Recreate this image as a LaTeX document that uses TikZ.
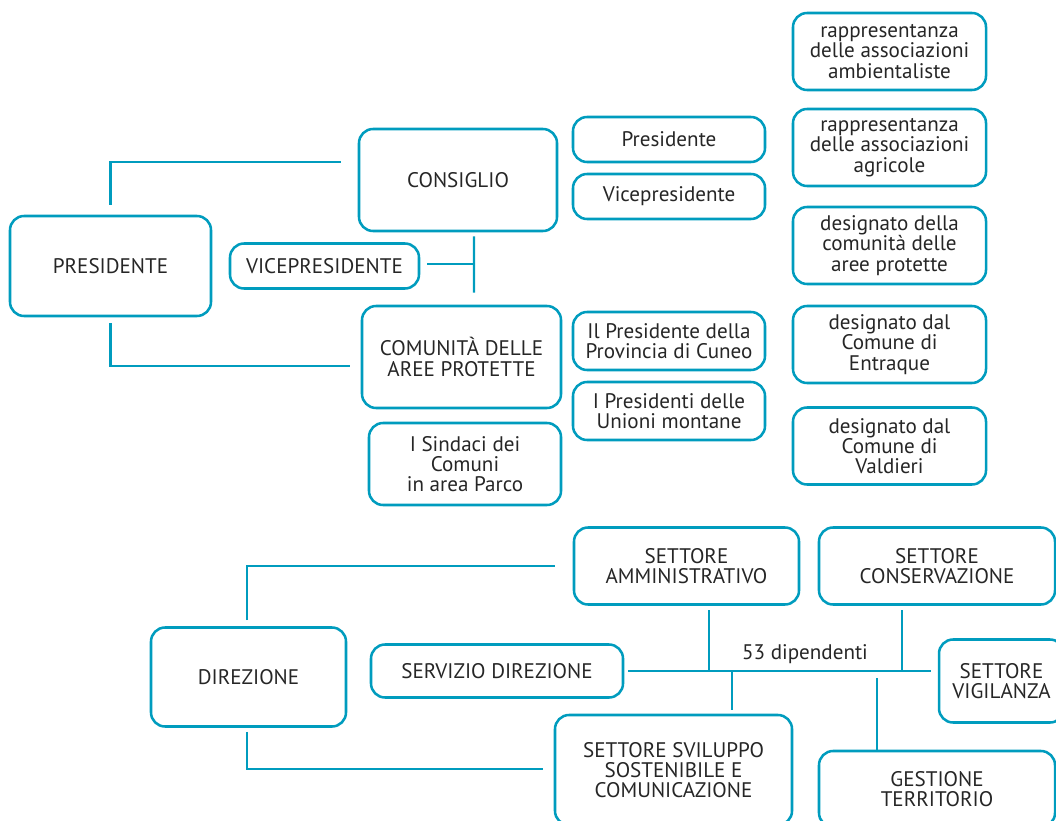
\documentclass[tikz,border=0pt]{standalone}
\usepackage{fontspec}
\setmainfont{PT Sans}
\definecolor{ParkBlue}{RGB}{0,156,190}
\colorlet{BoxText}{black!85}
\usetikzlibrary{calc}
\tikzset{
  box/.style 2 args={draw=ParkBlue, line width=1.8pt, rounded corners=10pt,
    minimum width=#1*0.025cm, minimum height=#2*0.025cm, align=center,
    inner sep=0pt, text=BoxText, font=\fontsize{15}{14.4}\selectfont},
  link/.style={draw=ParkBlue, line width=1.6pt},
}

\begin{document}
\begin{tikzpicture}[x=0.025cm, y=-0.025cm]
\useasboundingbox (0,0) rectangle (1056,820);

\node[box={201}{100}] (pres) at (110.5,266) {PRESIDENTE};
\node[box={198}{102}] (cons) at (458,180) {CONSIGLIO};
\node[box={189}{45}] (vice) at (324.5,266) {VICEPRESIDENTE};
\node[box={199}{102}] (comu) at (461.5,357) {COMUNITÀ DELLE\\AREE PROTETTE};
\node[box={192}{82}] (sind) at (465,464) {I Sindaci dei\\Comuni\\in area Parco};

\node[box={192}{45}] (rpres) at (669,139.5) {Presidente};
\node[box={192}{45}] (rvice) at (669,196.5) {Vicepresidente};
\node[box={192}{58}] (rprov) at (669,341) {Il Presidente della\\Provincia di Cuneo};
\node[box={192}{58}] (runio) at (669,411) {I Presidenti delle\\Unioni montane};

\node[box={193}{77}] (amb) at (889.5,51.5) {rappresentanza\\delle associazioni\\ambientaliste};
\node[box={193}{77}] (agr) at (889.5,147.5) {rappresentanza\\delle associazioni\\agricole};
\node[box={193}{77}] (desig) at (889.5,245.5) {designato della\\comunità delle\\aree protette};
\node[box={193}{77}] (entr) at (889.5,344.5) {designato dal\\Comune di\\Entraque};
\node[box={193}{77}] (vald) at (889.5,446) {designato dal\\Comune di\\Valdieri};

\draw[link] ($(pres.north)+(0,-10)$) |- ($(cons.west)+(-17,-18)$);
\draw[link] ($(pres.south)+(0,6)$) |- ($(comu.west)+(-11,9)$);
\draw[link] ($(cons.south)+(16,4)$) -- ($(comu.north)+(12.5,-12)$);
\draw[link] ($(vice.east)+(7,-2)$) -- ++(48,0);

\node[box={195}{99}] (dir) at (248.5,677) {DIREZIONE};
\node[box={225}{77}] (amm) at (686.5,566) {SETTORE\\AMMINISTRATIVO};
\node[box={236}{77}] (cnsv) at (937,566) {SETTORE\\CONSERVAZIONE};
\node[box={252}{53}] (serv) at (497,671) {SERVIZIO DIREZIONE};
\node[box={125}{83}] (vig) at (1001.5,681) {SETTORE\\VIGILANZA};
\node[box={237}{110}] (svil) at (673.5,770) {SETTORE SVILUPPO\\SOSTENIBILE E\\COMUNICAZIONE};
\node[box={236}{76}] (gest) at (937,789) {GESTIONE\\TERRITORIO};
\node[text=BoxText, font=\fontsize{15}{14.4}\selectfont] (dip) at (805,654) {53 dipendenti};

\draw[link] ($(dir.north)+(-1.5,-6)$) |- ($(amm.west)+(-18,0)$);
\draw[link] ($(dir.south)+(-1.5,4)$) |- ($(svil.west)+(-11,-1)$);
\draw[link] ($(serv.east)+(4,0)$) -- ($(vig.west)+(-7,-10)$);
\draw[link] ($(amm.south)+(22.5,4.5)$) -- ++(0,62);
\draw[link] ($(cnsv.south)+(-35,4.5)$) -- ++(0,62);
\draw[link] ($(svil.north)+(58.5,-4)$) -- ++(0,-39);
\draw[link] ($(gest.north)+(-60,0)$) -- ++(0,-72);

\end{tikzpicture}
\end{document}
